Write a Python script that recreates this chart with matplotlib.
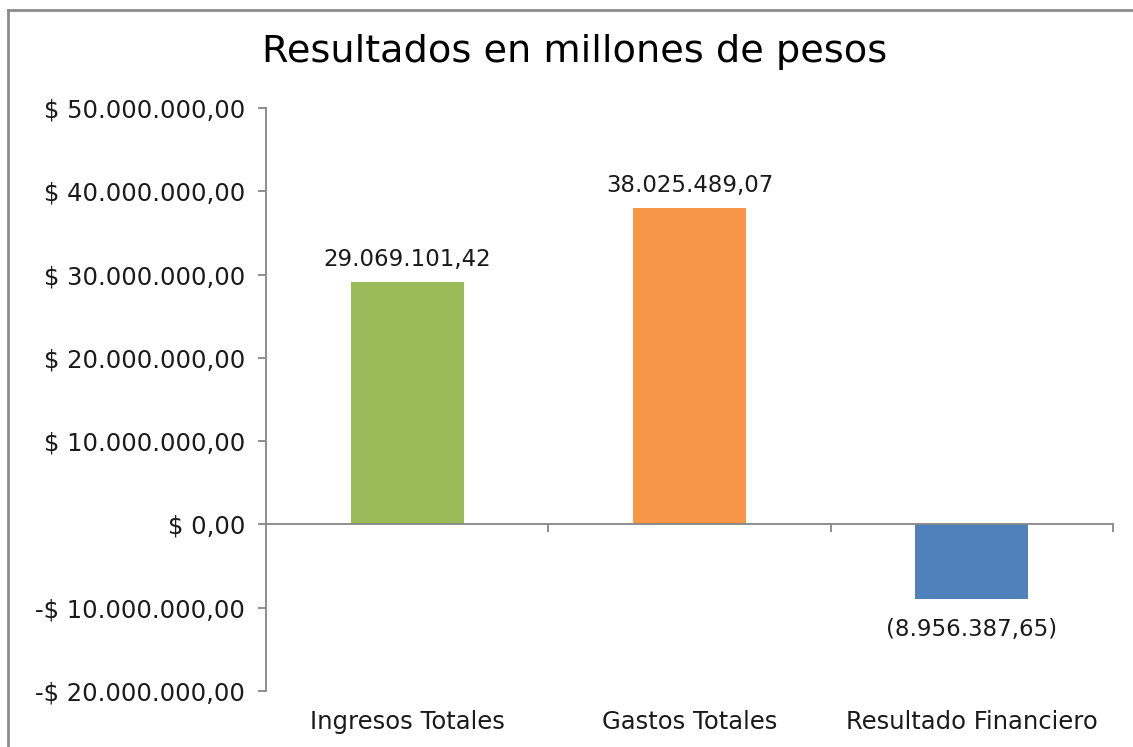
import matplotlib

matplotlib.use("Agg")
import matplotlib.pyplot as plt
from matplotlib.lines import Line2D
from matplotlib.ticker import FuncFormatter
import matplotlib.transforms as mtransforms

plt.rcParams["font.family"] = ["DejaVu Sans"]

categories = ["Ingresos Totales", "Gastos Totales", "Resultado Financiero"]
values = [29069101.42, 38025489.07, -8956387.65]
colors = ["#9BBB59", "#F79646", "#4F81BD"]
yticks = [-20e6, -10e6, 0, 10e6, 20e6, 30e6, 40e6, 50e6]

AXIS = "#868686"
TEXT = "#1a1a1a"


def es_num(v):
    s = f"{abs(v):,.2f}"
    return s.replace(",", "X").replace(".", ",").replace("X", ".")


def money(v, _pos=None):
    return ("-$ " if v < 0 else "$ ") + es_num(v)


def bar_label(v):
    return es_num(v) if v >= 0 else "(" + es_num(v) + ")"


W, H = 1133, 747
fig = plt.figure(figsize=(W / 100, H / 100), dpi=100)
ax = fig.add_axes([266 / W, 1 - 691 / H, (1113 - 266) / W, (691 - 108) / H])

x = list(range(len(categories)))
ax.bar(x, values, width=0.4, color=colors, zorder=2)

ax.set_xlim(-0.5, len(categories) - 0.5)
ax.set_ylim(yticks[0], yticks[-1])
ax.set_yticks(yticks)
ax.yaxis.set_major_formatter(FuncFormatter(money))

for s in ("top", "right"):
    ax.spines[s].set_visible(False)
ax.spines["left"].set_color(AXIS)
ax.spines["left"].set_linewidth(1.3)
ax.spines["bottom"].set_position(("data", 0))
ax.spines["bottom"].set_color(AXIS)
ax.spines["bottom"].set_linewidth(1.3)
ax.set_xticks([i + 0.5 for i in x])
ax.set_xticklabels([])
ax.tick_params(axis="both", color=AXIS, width=1.3, length=6, direction="out")
ax.tick_params(axis="y", labelsize=17.5, labelcolor=TEXT, pad=9)

trans = mtransforms.blended_transform_factory(ax.transData, ax.transAxes)
for i, c in enumerate(categories):
    ax.text(i, -0.053, c, transform=trans, ha="center", va="center",
            fontsize=17.5, color=TEXT)

for i, v in enumerate(values):
    off = 8 if v >= 0 else -14
    ax.annotate(bar_label(v), (i, v), xytext=(0, off), textcoords="offset points",
                ha="center", va="bottom" if v >= 0 else "top",
                fontsize=16.5, color=TEXT)

fig.text(575 / W, 1 - 52 / H, "Resultados en millones de pesos", ha="center",
         va="center", fontsize=27.5, color="black")

# chart frame (only top and left edges visible in the crop)
fig.add_artist(Line2D([8 / W, 8 / W], [0, 1 - 10 / H], transform=fig.transFigure,
                      color="#8c8c8c", lw=2))
fig.add_artist(Line2D([8 / W, 1], [1 - 10 / H, 1 - 10 / H], transform=fig.transFigure,
                      color="#8c8c8c", lw=2))

fig.savefig("out.png", dpi=100)
